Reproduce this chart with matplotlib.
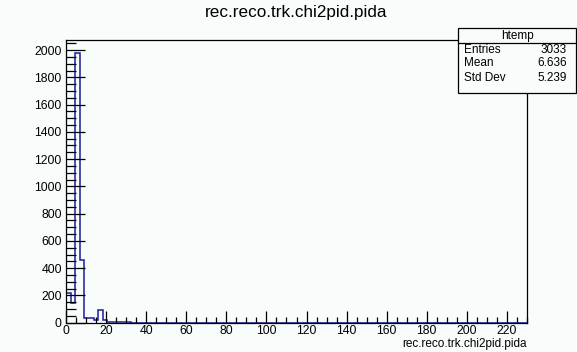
import matplotlib
matplotlib.use("Agg")
import matplotlib.pyplot as plt
from matplotlib.patches import Rectangle
from matplotlib.lines import Line2D
from matplotlib.ticker import MultipleLocator
import numpy as np

plt.rcParams['font.family'] = ['Liberation Sans', 'DejaVu Sans']

# histogram: 100 bins over 0..230
x_min, x_max, n_bins = 0.0, 230.0, 100
counts = [216, 142, 1975, 461, 37, 37, 22, 91, 22, 8, 7, 6, 5, 4]
counts = counts + [0] * (n_bins - len(counts))
edges = np.linspace(x_min, x_max, n_bins + 1)

hist_name = "htemp"
var_name = "rec.reco.trk.chi2pid.pida"
stat_labels = ["Entries", "Mean", "Std Dev"]
stat_values = ["3033", "6.636", "5.239"]

W, H = 577, 352
bg = '#f8fcfa'
fig = plt.figure(figsize=(W / 100, H / 100), dpi=100, facecolor=bg)

def fx(px):
    return px / W

def fy(py):
    return 1 - py / H

ax = fig.add_axes([fx(66), fy(322.7), fx(527) - fx(66), fy(40) - fy(322.7)])
ax.set_facecolor(bg)
ax.stairs(counts, edges, color='#1c1c9c', linewidth=1.1)
ax.set_xlim(x_min, x_max)
ax.set_ylim(0, max(counts) * 1.05)

ax.xaxis.set_major_locator(MultipleLocator(20))
ax.xaxis.set_minor_locator(MultipleLocator(5))
ax.yaxis.set_major_locator(MultipleLocator(200))
ax.yaxis.set_minor_locator(MultipleLocator(50))
ax.tick_params(axis='x', which='major', direction='in', length=8.5, width=0.9,
               labelsize=8.8, pad=1.5, top=False)
ax.tick_params(axis='x', which='minor', direction='in', length=4.3, width=0.9, top=False)
ax.tick_params(axis='y', which='major', direction='in', length=13.8, width=0.9,
               labelsize=8.8, pad=3, right=False)
ax.tick_params(axis='y', which='minor', direction='in', length=7, width=0.9, right=False)
for s in ax.spines.values():
    s.set_linewidth(0.9)

fig.text(fx(296), fy(12.5), var_name, ha='center', va='center', fontsize=12.3)
fig.text(fx(527), fy(344), var_name, ha='right', va='center', fontsize=8.5)

# stats box
bx0, by0, bx1, by1 = 458, 28, 576, 93
fig.add_artist(Rectangle((fx(bx0), fy(by1)), fx(bx1) - fx(bx0), fy(by0) - fy(by1),
                         transform=fig.transFigure, facecolor=bg, edgecolor='black',
                         linewidth=0.9, zorder=5))
fig.add_artist(Line2D([fx(bx0), fx(bx1)], [fy(42.7), fy(42.7)], transform=fig.transFigure,
                      color='black', linewidth=0.9, zorder=6))
fig.text(fx((bx0 + bx1) / 2), fy(35.5), hist_name, ha='center', va='center', fontsize=8.5, zorder=7)
row_y = [50, 63.3, 78]
for lab, val, yy in zip(stat_labels, stat_values, row_y):
    fig.text(fx(bx0 + 6), fy(yy), lab, ha='left', va='center', fontsize=8.5, zorder=7)
    fig.text(fx(bx1 - 9), fy(yy), val, ha='right', va='center', fontsize=8.5, zorder=7)

fig.savefig("out.png", dpi=100, facecolor=bg)
